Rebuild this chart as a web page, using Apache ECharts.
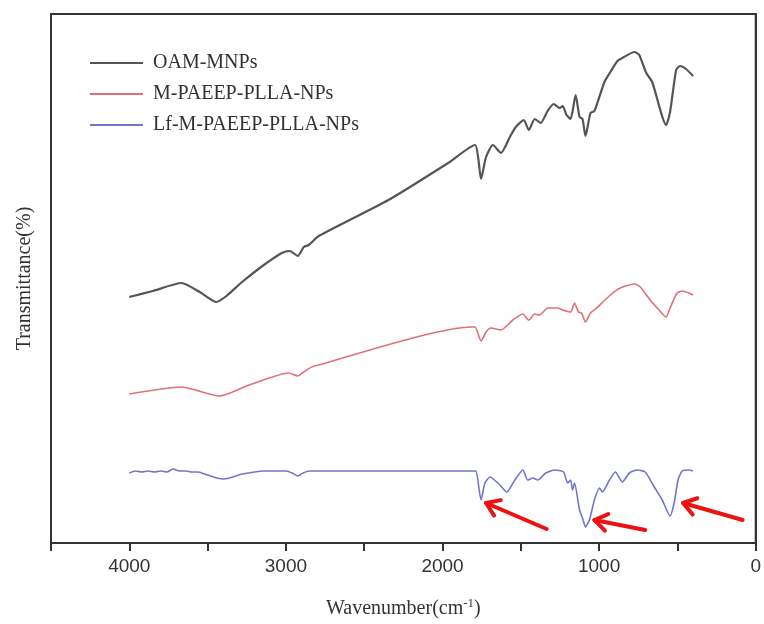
<!DOCTYPE html>
<html>
<head>
<meta charset="utf-8">
<script src="https://cdn.jsdelivr.net/npm/echarts@6/dist/echarts.min.js"></script>
<style>
  html, body { margin: 0; padding: 0; background: #fff; }
  #chart { width: 764px; height: 624px; }
</style>
</head>
<body>
<div id="chart"></div>
<script>
// FTIR spectra, wavenumber in cm-1, transmittance in arbitrary offset units
const seriesNames = ["OAM-MNPs", "M-PAEEP-PLLA-NPs", "Lf-M-PAEEP-PLLA-NPs"];

const oamWn = [4000, 3850, 3667, 3550, 3445, 3380, 3280, 3150, 3026, 2975, 2924, 2886, 2854, 2790, 2345, 1964, 1792, 1772, 1754, 1722, 1678, 1627, 1570, 1532, 1481, 1449, 1411, 1373, 1329, 1290, 1252, 1233, 1208, 1182, 1150, 1125, 1106, 1087, 1055, 1030, 966, 928, 883, 852, 775, 744, 699, 661, 572, 547, 508, 483, 445, 400];
const oamT = [246, 252, 260, 251, 241, 247, 261, 277, 290, 292, 287, 296, 298, 307, 343, 380, 398, 385, 364, 386, 398, 390, 406, 416, 423, 413, 424, 420, 432, 439, 435, 437, 428, 424, 448, 426, 424, 407, 430, 432, 461, 471, 482, 485, 491, 488, 470, 461, 418, 431, 473, 477, 474, 467];

const mWn = [4000, 3667, 3426, 3235, 2981, 2924, 2886, 2835, 1818, 1792, 1754, 1722, 1691, 1627, 1551, 1487, 1449, 1411, 1379, 1328, 1265, 1233, 1182, 1157, 1131, 1112, 1087, 1055, 1023, 928, 864, 775, 737, 674, 617, 572, 547, 502, 470, 426, 400];
const mT = [149, 156, 147, 158, 170, 167, 171, 176, 216, 216, 202, 211, 215, 213, 223, 229, 223, 229, 228, 235, 235, 233, 231, 240, 231, 230, 221, 230, 234, 248, 255, 259, 256, 243, 233, 226, 235, 250, 252, 250, 248];

const lfWn = [4000, 3960, 3920, 3880, 3840, 3800, 3760, 3720, 3680, 3640, 3600, 3560, 3520, 3480, 3440, 3400, 3360, 3320, 3280, 3240, 3200, 3150, 3100, 3050, 3000, 2960, 2924, 2890, 2850, 2800, 2600, 2400, 2200, 2000, 1800, 1786, 1754, 1729, 1697, 1646, 1589, 1538, 1487, 1456, 1424, 1392, 1341, 1284, 1227, 1201, 1182, 1170, 1157, 1125, 1106, 1087, 1062, 1030, 998, 979, 934, 896, 852, 807, 756, 706, 648, 597, 547, 521, 496, 470, 426, 400];
const lfT = [70, 72, 71, 72, 71, 72, 71, 74, 72, 72, 71, 71, 69, 67, 65, 64, 65, 67, 69, 70, 71, 72, 72, 72, 72, 70, 67, 70, 72, 72, 72, 72, 72, 72, 72, 72, 43, 60, 66, 60, 51, 63, 73, 63, 65, 63, 70, 73, 71, 60, 63, 53, 60, 33, 25, 16, 23, 43, 55, 51, 63, 71, 61, 70, 73, 71, 56, 43, 27, 40, 63, 72, 73, 72];

// annotation arrows (tail -> head), data coords
const arrowTails = [[1335, 14], [706, 13], [83, 23]];
const arrowHeads = [[1722, 40], [1030, 23], [464, 40]];

const colors = ["#555555", "#e07078", "#7474cc"];
const widths = [2.2, 1.6, 1.6];

function pairs(xs, ys) {
  return xs.map((x, i) => [x, ys[i]]);
}

const chart = echarts.init(document.getElementById("chart"));
const serif = "Liberation Serif";

chart.setOption({
  animation: false,
  grid: {
    left: 51, right: 3, top: 14, bottom: 81,
    show: true, borderColor: "#333", borderWidth: 2,
  },
  legend: {
    orient: "vertical",
    left: 90, top: 53, padding: 0,
    icon: "rect",
    itemWidth: 53, itemHeight: 2, itemGap: 11,
    textStyle: { fontFamily: serif, fontSize: 20, color: "#333", lineHeight: 20, padding: [0, 0, 0, 5] },
    data: seriesNames,
  },
  xAxis: {
    type: "value", min: 0, max: 4500, interval: 500, inverse: true,
    name: "Wavenumber(cm{sup|-1})",
    nameLocation: "middle", nameGap: 54,
    nameTextStyle: {
      fontFamily: serif, fontSize: 20, color: "#333",
      rich: { sup: { fontFamily: serif, fontSize: 13, color: "#333", verticalAlign: "top", padding: [0, 0, 10, 0] } },
    },
    axisLine: { show: true, lineStyle: { color: "#333", width: 2 } },
    axisTick: { show: true, length: 8, lineStyle: { color: "#333", width: 2 } },
    axisLabel: {
      margin: 14, fontFamily: "Liberation Sans", fontSize: 19, color: "#333",
      showMinLabel: true, showMaxLabel: true,
      formatter: (v) => (v % 1000 === 0 ? String(v) : ""),
    },
    splitLine: { show: false },
  },
  yAxis: {
    type: "value", min: 0, max: 529,
    name: "Transmittance(%)",
    nameLocation: "middle", nameGap: 16,
    nameTextStyle: { fontFamily: serif, fontSize: 20, color: "#333" },
    axisLine: { show: true, lineStyle: { color: "#333", width: 2 } },
    axisTick: { show: false },
    axisLabel: { show: false },
    splitLine: { show: false },
  },
  series: [
    { name: seriesNames[0], data: pairs(oamWn, oamT) },
    { name: seriesNames[1], data: pairs(mWn, mT) },
    { name: seriesNames[2], data: pairs(lfWn, lfT) },
  ].map((s, i) => ({
    ...s,
    type: "line",
    symbol: "none",
    smooth: 0.2,
    color: colors[i],
    lineStyle: { color: colors[i], width: widths[i] },
  })),
});

// red arrows
function arrowGraphics() {
  const els = [];
  arrowTails.forEach((t, i) => {
    const p0 = chart.convertToPixel({ gridIndex: 0 }, t);
    const p1 = chart.convertToPixel({ gridIndex: 0 }, arrowHeads[i]);
    const ang = Math.atan2(p1[1] - p0[1], p1[0] - p0[0]);
    const L = 15, spread = 0.6;
    const a = [p1[0] - L * Math.cos(ang - spread), p1[1] - L * Math.sin(ang - spread)];
    const b = [p1[0] - L * Math.cos(ang + spread), p1[1] - L * Math.sin(ang + spread)];
    const style = { stroke: "#ee1111", lineWidth: 4, lineCap: "round", lineJoin: "round", fill: null };
    els.push({ type: "polyline", shape: { points: [p0, p1] }, style });
    els.push({ type: "polyline", shape: { points: [a, p1, b] }, style });
  });
  return els;
}

chart.setOption({ graphic: arrowGraphics() });
</script>
</body>
</html>
